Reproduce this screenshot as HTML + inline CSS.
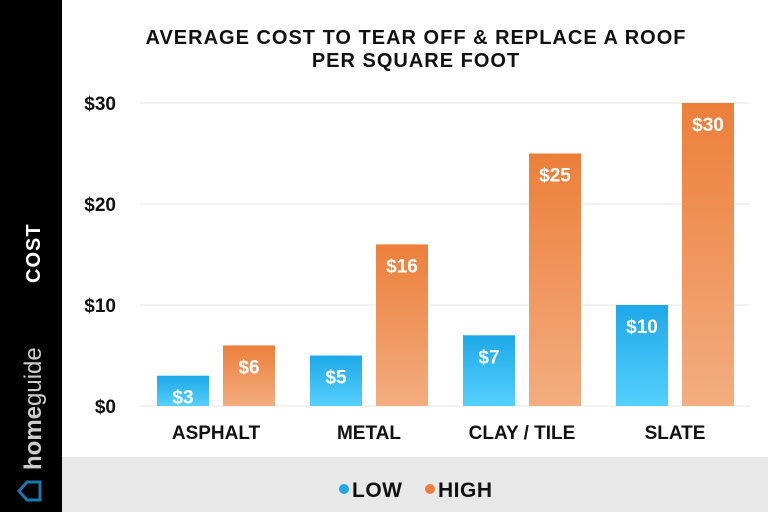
<!DOCTYPE html>
<html><head><meta charset="utf-8"><style>
body{margin:0;width:768px;height:512px;overflow:hidden;background:#fff;font-family:"Liberation Sans",sans-serif}
</style></head><body>
<svg width="768" height="512" viewBox="0 0 768 512">
<defs>
<linearGradient id="gl" x1="0" y1="0" x2="0" y2="1"><stop offset="0" stop-color="#1ea8e8"/><stop offset="1" stop-color="#55d0fd"/></linearGradient>
<linearGradient id="gh" x1="0" y1="0" x2="0" y2="1"><stop offset="0" stop-color="#ec7f3a"/><stop offset="1" stop-color="#f3ad80"/></linearGradient>
</defs>
<rect x="0" y="0" width="62" height="512" fill="#000"/>
<text transform="translate(40,283) rotate(-90)" fill="#fff" font-size="20" font-weight="bold" letter-spacing="1">COST</text>
<text transform="translate(41,470) rotate(-90)" fill="#ccc" font-size="24"><tspan font-weight="bold">home</tspan>guide</text>
<path d="M19,491 L27,482 L40,482 L40,500 L27,500 Z" fill="none" stroke="#1a78b0" stroke-width="3"/>
<rect x="62" y="457" width="706" height="55" fill="#e8e8e8"/>
<text x="416" y="44" text-anchor="middle" font-size="20" font-weight="bold" letter-spacing="1" fill="#111"><tspan x="416">AVERAGE COST TO TEAR OFF &amp; REPLACE A ROOF</tspan><tspan x="416" dy="23">PER SQUARE FOOT</tspan></text>
<g id="grid"></g><g id="bars"></g>
<g>
<circle cx="344" cy="489" r="5" fill="#1ea8e8"/>
<text x="352" y="497" font-size="21" font-weight="bold" letter-spacing="0.5" fill="#111">LOW</text>
<circle cx="430" cy="489" r="5" fill="#ec7f3a"/>
<text x="438" y="497" font-size="21" font-weight="bold" letter-spacing="0.5" fill="#111">HIGH</text>
</g>
</svg>
<script>
const categories=["ASPHALT","METAL","CLAY / TILE","SLATE"];
const lowValues=[3,5,7,10];
const highValues=[6,16,25,30];
const ticks=[0,10,20,30];
const NS="http://www.w3.org/2000/svg";
const y=v=>406-v*10.1;
const cx=i=>216+i*153;
function mk(t,a,p){const e=document.createElementNS(NS,t);for(const k in a)e.setAttribute(k,a[k]);p.appendChild(e);return e;}
const grid=document.getElementById('grid'),bars=document.getElementById('bars');
ticks.forEach(t=>{
 const l=mk('line',{x1:140,x2:750,y1:y(t),y2:y(t),stroke:'#e6e6e6','stroke-width':1},grid);
 
 
 const tx=mk('text',{x:116,y:y(t)+7,'text-anchor':'end','font-size':19,'font-weight':'bold',fill:'#111'},grid);
 tx.textContent='$'+t;
 
 
});
categories.forEach((c,i)=>{
 [[lowValues[i],-59,'url(#gl)','bar-low'],[highValues[i],7,'url(#gh)','bar-high']].forEach(([v,o,f,n])=>{
  const r=mk('rect',{x:cx(i)+o,y:y(v),width:52,height:y(0)-y(v),fill:f},bars);
  
  
  const t=mk('text',{x:cx(i)+o+26,y:y(v)+28,'text-anchor':'middle','font-size':19,'font-weight':'bold',fill:'#fff'},bars);
  t.textContent='$'+v;
  
  
 });
 const l=mk('text',{x:cx(i),y:439,'text-anchor':'middle','font-size':19,'font-weight':'bold',fill:'#111'},bars);
 l.textContent=c;
 
 
});
</script>
</body></html>
